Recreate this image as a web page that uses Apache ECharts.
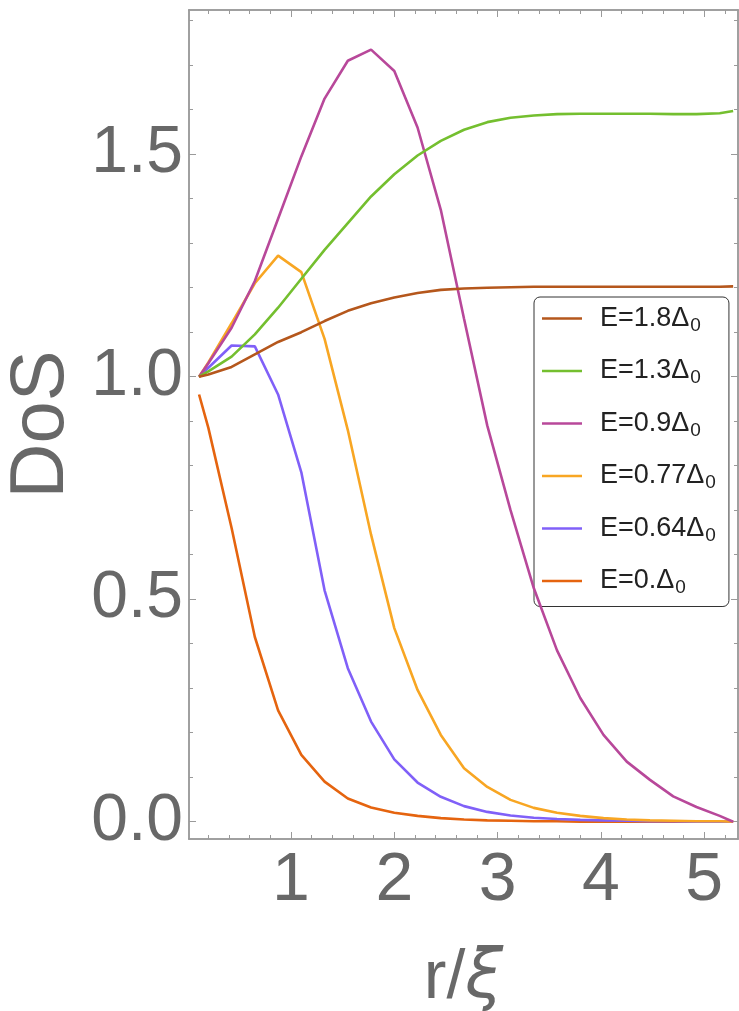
<!DOCTYPE html>
<html><head><meta charset="utf-8">
<script src="https://cdn.jsdelivr.net/npm/echarts@6/dist/echarts.min.js"></script>
<style>html,body{margin:0;padding:0;background:#fff}#c{width:739px;height:1011px}</style>
</head><body><div id="c"></div>
<script>
// ---- data ----
const rValues = [0.11, 0.2, 0.425, 0.65, 0.875, 1.1, 1.325, 1.55, 1.775, 2.0, 2.225, 2.45, 2.675, 2.9, 3.125, 3.35, 3.575, 3.8, 4.025, 4.25, 4.475, 4.7, 4.925, 5.15, 5.28];
const dosE18 = [1.0, 1.005, 1.022, 1.05, 1.078, 1.1, 1.125, 1.148, 1.165, 1.178, 1.188, 1.195, 1.198, 1.2, 1.201, 1.202, 1.202, 1.202, 1.202, 1.202, 1.202, 1.202, 1.202, 1.202, 1.203];
const dosE13 = [1.0, 1.012, 1.045, 1.095, 1.155, 1.22, 1.285, 1.345, 1.405, 1.455, 1.497, 1.53, 1.555, 1.572, 1.582, 1.587, 1.59, 1.591, 1.591, 1.591, 1.591, 1.59, 1.59, 1.592, 1.597];
const dosE09 = [1.0, 1.03, 1.11, 1.215, 1.355, 1.495, 1.625, 1.71, 1.735, 1.687, 1.56, 1.375, 1.13, 0.89, 0.7, 0.525, 0.385, 0.278, 0.195, 0.135, 0.094, 0.057, 0.033, 0.013, 0.0];
const dosE077 = [1.0, 1.032, 1.12, 1.21, 1.272, 1.235, 1.085, 0.88, 0.645, 0.435, 0.296, 0.195, 0.12, 0.078, 0.049, 0.031, 0.02, 0.013, 0.008, 0.005, 0.003, 0.002, 0.001, 0.001, 0.0];
const dosE064 = [1.0, 1.02, 1.07, 1.068, 0.96, 0.785, 0.52, 0.345, 0.225, 0.14, 0.088, 0.056, 0.035, 0.022, 0.014, 0.009, 0.006, 0.004, 0.003, 0.002, 0.001, 0.001, 0.0, 0.0, 0.0];
const dosE0 = [0.96, 0.885, 0.66, 0.415, 0.25, 0.15, 0.09, 0.052, 0.032, 0.02, 0.013, 0.008, 0.005, 0.003, 0.002, 0.001, 0.001, 0.0, 0.0, 0.0, 0.0, 0.0, 0.0, 0.0, 0.0];
const seriesNames = ['E=1.8Δ0', 'E=1.3Δ0', 'E=0.9Δ0', 'E=0.77Δ0', 'E=0.64Δ0', 'E=0.Δ0'];
const seriesData = [dosE18, dosE13, dosE09, dosE077, dosE064, dosE0];
const seriesColors = ['#b5571c', '#74bf2f', '#b8489a', '#f8a623', '#8060f8', '#e5640f'];
const xMajorTicks = [1, 2, 3, 4, 5];
const xMinorTicks = [0.2, 0.4, 0.6, 0.8, 1.2, 1.4, 1.6, 1.8, 2.2, 2.4, 2.6, 2.8, 3.2, 3.4, 3.6, 3.8, 4.2, 4.4, 4.6, 4.8, 5.2];
const yMajorTicks = [0, 0.5, 1.0, 1.5];
const yMinorTicks = [0.1, 0.2, 0.3, 0.4, 0.6, 0.7, 0.8, 0.9, 1.1, 1.2, 1.3, 1.4, 1.6, 1.7, 1.8];
const X_MIN = 0.0126, X_MAX = 5.327, Y_MIN = -0.0389, Y_MAX = 1.824;

// ---- chart ----
const FONT = '"Liberation Sans", Arial, sans-serif';
const FRAME = '#9a9a9a';
const LABEL = '#686868';
function xAx(pos, ticks, len, opts) {
  return Object.assign({
    type: 'value', min: X_MIN, max: X_MAX, position: pos,
    splitLine: { show: false },
    axisLine: { show: true, onZero: false, lineStyle: { color: FRAME, width: 1.5 } },
    axisTick: { show: true, inside: true, length: len, customValues: ticks, lineStyle: { color: FRAME, width: 1 } },
    axisLabel: { show: false }
  }, opts || {});
}
function yAx(pos, ticks, len, opts) {
  return Object.assign({
    type: 'value', min: Y_MIN, max: Y_MAX, position: pos,
    splitLine: { show: false },
    axisLine: { show: true, onZero: false, lineStyle: { color: FRAME, width: 1.5 } },
    axisTick: { show: true, inside: true, length: len, customValues: ticks, lineStyle: { color: FRAME, width: 1 } },
    axisLabel: { show: false }
  }, opts || {});
}
const chart = echarts.init(document.getElementById('c'), null, { renderer: 'canvas' });
chart.setOption({
  animation: false,
  backgroundColor: '#fff',
  grid: { left: 189, right: 1, top: 10, bottom: 172, containLabel: false, outerBoundsMode: 'none' },
  xAxis: [
    xAx('bottom', xMajorTicks, 7, {
      axisLabel: { show: true, customValues: xMajorTicks, fontSize: 68, color: LABEL, fontFamily: FONT, margin: 8,
        formatter: v => String(Math.round(v)) },
      name: 'r/{i|ξ}', nameLocation: 'middle', nameGap: 106,
      nameTextStyle: { fontSize: 68, color: LABEL, fontFamily: FONT,
        rich: { i: { fontSize: 68, color: LABEL, fontStyle: 'italic', fontFamily: '"DejaVu Sans", sans-serif' } } }
    }),
    xAx('bottom', xMinorTicks, 4),
    xAx('top', xMajorTicks, 7),
    xAx('top', xMinorTicks, 4)
  ],
  yAxis: [
    yAx('left', yMajorTicks, 7, {
      axisLabel: { show: true, customValues: yMajorTicks, fontSize: 66, color: LABEL, fontFamily: FONT, margin: 6,
        formatter: v => v.toFixed(1) },
      name: 'DoS', nameLocation: 'middle', nameRotate: 90, nameGap: 101,
      nameTextStyle: { fontSize: 76, color: LABEL, fontFamily: FONT }
    }),
    yAx('left', yMinorTicks, 4),
    yAx('right', yMajorTicks, 7),
    yAx('right', yMinorTicks, 4)
  ],
  legend: {
    orient: 'vertical', left: 534, top: 297,
    backgroundColor: '#fff', borderColor: '#333', borderWidth: 1, borderRadius: 6,
    padding: [5, 13, 9, 8],
    icon: 'rect', itemWidth: 40, itemHeight: 2.5, itemGap: 19.5,
    data: seriesNames,
    formatter: name => '{t|' + name.slice(0, -1) + '}{s|0}',
    textStyle: {
      padding: [0, 0, 0, 13], lineHeight: 30,
      rich: {
        t: { fontSize: 27, color: '#222', fontFamily: FONT, lineHeight: 30 },
        s: { fontSize: 19, color: '#222', fontFamily: FONT, lineHeight: 30, padding: [14, 0, 0, 1] }
      }
    }
  },
  series: seriesNames.map((n, i) => ({
    name: n, type: 'line', xAxisIndex: 0, yAxisIndex: 0,
    data: rValues.map((r, k) => [r, seriesData[i][k]]),
    symbol: 'none', smooth: false,
    lineStyle: { color: seriesColors[i], width: 2.6 },
    itemStyle: { color: seriesColors[i] },
    z: 10 - i
  }))
});
</script></body></html>
